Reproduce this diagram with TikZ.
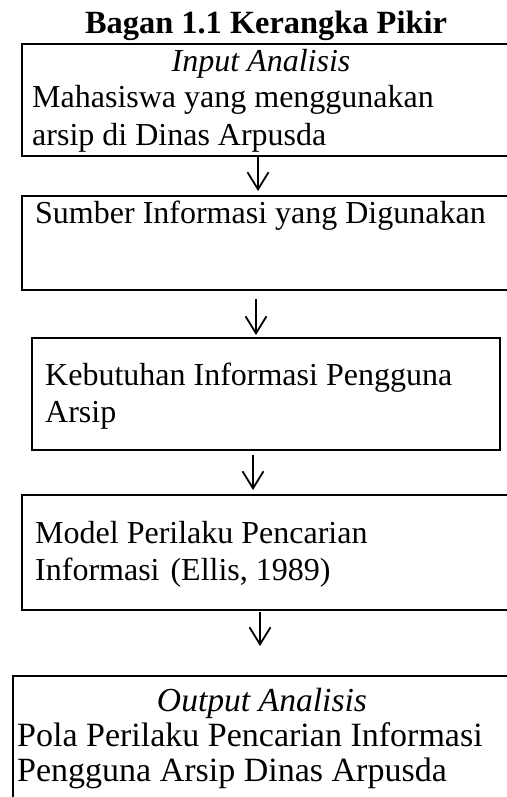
\documentclass[tikz,border=0pt]{standalone}
\usepackage{fontspec}
\setmainfont{Liberation Serif}
\usetikzlibrary{arrows.meta}
\begin{document}
\begin{tikzpicture}[x=1pt,y=-1pt,
  box/.style={draw, line width=2pt, inner sep=0pt, anchor=north west},
  txt/.style={anchor=base west, inner sep=0pt, font=\fontsize{32}{37}\selectfont},
  ctxt/.style={anchor=base, inner sep=0pt, font=\fontsize{32}{37}\selectfont\itshape},
  bigtxt/.style={anchor=base west, inner sep=0pt, font=\fontsize{34}{40}\selectfont},
  bigctxt/.style={anchor=base, inner sep=0pt, font=\fontsize{33.6}{40}\selectfont\itshape},
  arr/.style={line width=1.8pt, -{Straight Barb[length=17pt,width=21pt]}}]
\useasboundingbox (0,0) rectangle (506,797);
% boxes
\node[box, minimum width=499pt, minimum height=112pt] (b1) at (21,43) {};
\node[box, minimum width=499pt, minimum height=94pt] (b2) at (21,195) {};
\node[box, minimum width=468pt, minimum height=112pt] (b3) at (31,337) {};
\node[box, minimum width=499pt, minimum height=115pt] (b4) at (21,494) {};
\node[box, minimum width=508pt, minimum height=135pt] (b5) at (12,675) {};
% title
\node[anchor=base, inner sep=0pt, font=\fontsize{32.4}{37}\selectfont\bfseries] (title) at (266,34) {Bagan 1.1 Kerangka Pikir};
% texts
\node[ctxt] (t1a) at (261,72) {Input Analisis};
\node[txt] (t1b) at (32,108) {Mahasiswa yang menggunakan};
\node[txt] (t1c) at (32,145) {arsip di Dinas Arpusda};
\node[txt] (t2) at (35,223) {Sumber Informasi yang Digunakan};
\node[txt] (t3a) at (45,385) {Kebutuhan Informasi Pengguna};
\node[txt] (t3b) at (45,422) {Arsip};
\node[txt] (t4a) at (35,543) {Model Perilaku Pencarian};
\node[txt] (t4b) at (35,580) {Informasi\hspace{3pt} (Ellis, 1989)};
\node[bigctxt] (t5a) at (262,711) {Output Analisis};
\node[bigtxt] (t5b) at (17,746) {Pola Perilaku Pencarian Informasi};
\node[bigtxt] (t5c) at (17,781) {Pengguna Arsip Dinas Arpusda};
% arrows
\coordinate (x1) at (258,0);
\coordinate (x2) at (256,0);
\coordinate (x3) at (253,0);
\coordinate (x4) at (260,0);
\draw[arr, shorten >=4pt] (b1.south -| x1) -- (b2.north -| x1);
\draw[arr, shorten <=8pt, shorten >=2pt] (b2.south -| x2) -- (b3.north -| x2);
\draw[arr, shorten <=4pt, shorten >=4pt] (b3.south -| x3) -- (b4.north -| x3);
\draw[arr, shorten <=1pt, shorten >=29pt] (b4.south -| x4) -- (b5.north -| x4);
\end{tikzpicture}
\end{document}
